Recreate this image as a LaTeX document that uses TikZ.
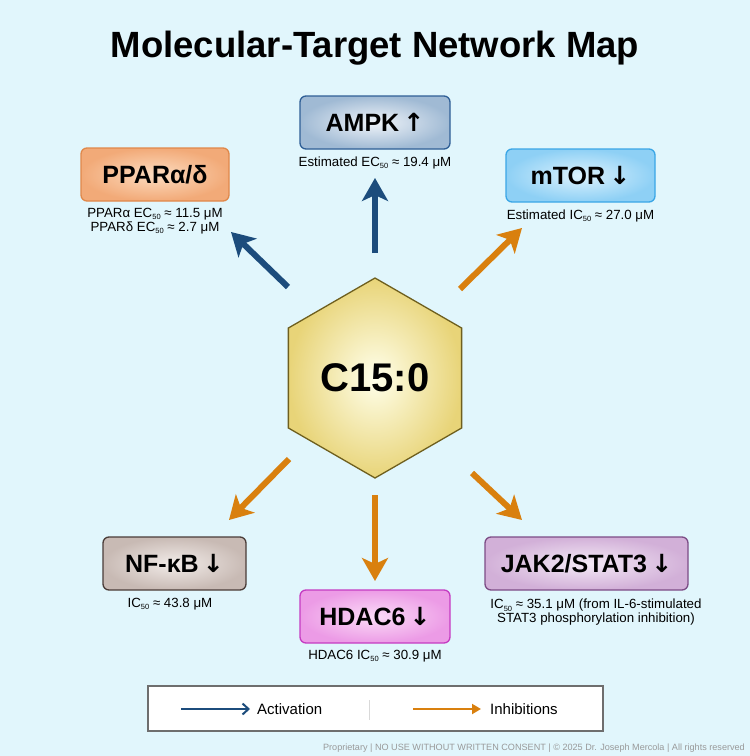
\documentclass[tikz,border=0pt]{standalone}
\usepackage{fontspec}
\setmainfont{Liberation Sans}
\newfontfamily\arrowfont{DejaVu Sans}
\usetikzlibrary{arrows.meta,shapes.geometric}
\definecolor{bgc}{HTML}{E1F6FC}
\definecolor{actblue}{HTML}{1C4C7C}
\definecolor{inhor}{HTML}{D9800E}
\newcommand\fiftysub{\raisebox{-0.3ex}{\fontsize{7.5}{7.5}\selectfont 50}}
\newcommand\uparr{\,{\arrowfont\bfseries ↑}}
\newcommand\dnarr{\,{\arrowfont\bfseries ↓}}
\tikzset{
  tbox/.style={draw, rounded corners=6pt, line width=1.3pt, minimum height=53pt, inner sep=0pt,
     font=\fontsize{25}{25}\selectfont\bfseries},
  lbl/.style={font=\fontsize{13.3}{14}\selectfont, align=center, inner sep=0pt},
  bigarrow/.style={line width=6pt, -{Stealth[length=23pt,width=26pt,inset=6pt]}},
}
\begin{document}
\begin{tikzpicture}[x=1pt,y=-1pt]
\fill[bgc] (0,0) rectangle (750,756);
\useasboundingbox (0,0) rectangle (750,756);

\node[font=\fontsize{36.5}{36.5}\selectfont\bfseries] (title) at (375,48) {Molecular-Target Network Map};

% hexagon
\node[regular polygon, regular polygon sides=6, shape border rotate=30, minimum size=200pt, inner sep=0pt,
  draw={rgb,255:red,110;green,95;blue,30}, line width=1.3pt, inner color=yellow!8, outer color={rgb,255:red,232;green,212;blue,120},
  font=\fontsize{40}{40}\selectfont\bfseries] (hex) at (375,378) {C15:0};

% target boxes
\node[tbox, minimum width=150pt, draw={rgb,255:red,47;green,95;blue,150}, inner color={rgb,255:red,240;green,244;blue,249}, outer color={rgb,255:red,160;green,186;blue,212}] (ampk) at (375,122.5) {AMPK\uparr};
\node[tbox, minimum width=148pt, draw={rgb,255:red,224;green,136;blue,74}, inner color={rgb,255:red,252;green,220;blue,192}, outer color={rgb,255:red,242;green,170;blue,120}] (ppar) at (155,174.5) {PPARα/δ};
\node[tbox, minimum width=149pt, draw={rgb,255:red,58;green,166;blue,230}, inner color={rgb,255:red,220;green,242;blue,253}, outer color={rgb,255:red,142;green,208;blue,245}] (mtor) at (580.5,175.5) {mTOR\dnarr};
\node[tbox, minimum width=143pt, draw={rgb,255:red,74;green,60;blue,56}, inner color={rgb,255:red,242;green,236;blue,233}, outer color={rgb,255:red,200;green,186;blue,180}] (nfkb) at (174.5,563.5) {NF-κB\dnarr};
\node[tbox, minimum width=150pt, draw={rgb,255:red,197;green,59;blue,194}, inner color={rgb,255:red,251;green,220;blue,247}, outer color={rgb,255:red,236;green,155;blue,230}] (hdac) at (375,616.5) {HDAC6\dnarr};
\node[tbox, minimum width=203pt, draw={rgb,255:red,124;green,76;blue,134}, inner color={rgb,255:red,244;green,234;blue,246}, outer color={rgb,255:red,210;green,176;blue,216}] (jak) at (586.5,563.5) {JAK2/STAT3\dnarr};

% labels
\node[lbl] (ampkl) at (375,163) {Estimated EC\fiftysub{} ≈ 19.4 μM};
\node[lbl] (pparl) at (155,221) {PPARα EC\fiftysub{} ≈ 11.5 μM\\PPARδ EC\fiftysub{} ≈ 2.7 μM};
\node[lbl] (mtorl) at (580.5,216) {Estimated IC\fiftysub{} ≈ 27.0 μM};
\node[lbl] (nfkbl) at (170,604) {IC\fiftysub{} ≈ 43.8 μM};
\node[lbl] (hdacl) at (375,656) {HDAC6 IC\fiftysub{} ≈ 30.9 μM};
\node[lbl] (jakl) at (596,612.5) {IC\fiftysub{} ≈ 35.1 μM (from IL-6-stimulated\\STAT3 phosphorylation inhibition)};

% arrow endpoints
\coordinate (sA) at (375,253); \coordinate (tA) at (375,178);
\coordinate (sP) at (288,287); \coordinate (tP) at (231,232);
\coordinate (sM) at (460,289); \coordinate (tM) at (522,228);
\coordinate (sN) at (289,459); \coordinate (tN) at (229,520);
\coordinate (sH) at (375,495); \coordinate (tH) at (375,581);
\coordinate (sJ) at (472,473); \coordinate (tJ) at (522,520);

\draw[bigarrow, actblue] (sA) -- (tA);
\draw[bigarrow, actblue] (sP) -- (tP);
\draw[bigarrow, inhor] (sM) -- (tM);
\draw[bigarrow, inhor] (sN) -- (tN);
\draw[bigarrow, inhor] (sH) -- (tH);
\draw[bigarrow, inhor] (sJ) -- (tJ);

% legend
\node[draw={rgb,255:red,110;green,110;blue,110}, fill=white, line width=1.2pt, minimum width=455pt, minimum height=45pt, inner sep=0pt] (legend) at (375.5,708.5) {};
\coordinate (la1) at (181,709); \coordinate (la2) at (250,709);
\coordinate (lb1) at (413,709); \coordinate (lb2) at (481,709);
\draw[actblue, line width=2pt, -{Straight Barb[length=6pt,width=11pt]}] (la1) -- (la2);
\draw[inhor, line width=2pt, -{Triangle[length=9pt,width=10pt]}] (lb1) -- (lb2);
\node[anchor=west, inner sep=0pt, font=\fontsize{15}{15}\selectfont] (lacttxt) at (257,709) {Activation};
\node[anchor=west, inner sep=0pt, font=\fontsize{15}{15}\selectfont] (linhtxt) at (490,709) {Inhibitions};
\coordinate (d1) at (369,700); \coordinate (d2) at (369,720);
\draw[black!15, line width=0.8pt] (d1) -- (d2);

% footer
\node[anchor=east, inner sep=0pt, text=black!40, font=\fontsize{9.1}{9.5}\selectfont] (footer) at (745,748) {Proprietary | NO USE WITHOUT WRITTEN CONSENT | © 2025 Dr. Joseph Mercola | All rights reserved};
\end{tikzpicture}
\end{document}
